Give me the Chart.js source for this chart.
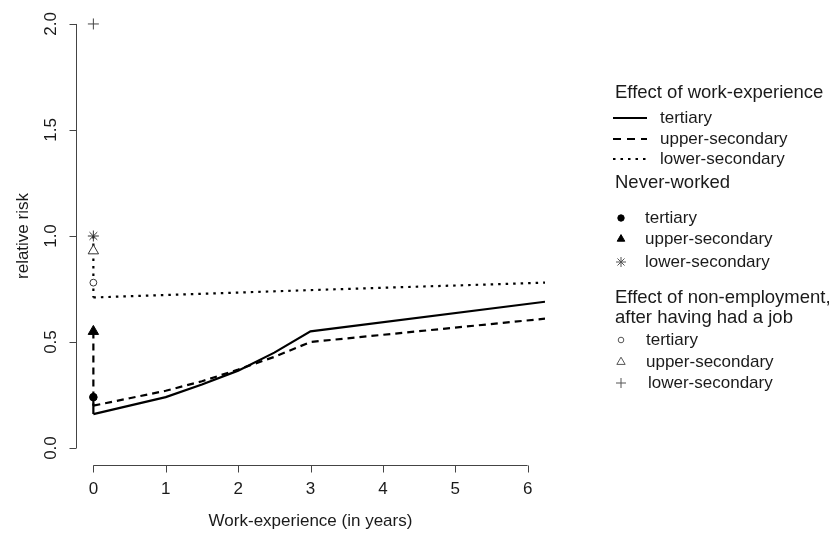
<!DOCTYPE html>
<html>
<head>
<meta charset="utf-8">
<script src="https://cdn.jsdelivr.net/npm/chart.js@4/dist/chart.umd.min.js"></script>
<style>
  html, body { margin: 0; padding: 0; background: #fff; }
  #wrap { width: 832px; height: 533px; }
</style>
</head>
<body>
<div id="wrap"><canvas id="c" width="832" height="533"></canvas></div>
<script>
// Relative risk by years of work experience, per education level
const expYears      = [0, 0.5, 1, 1.5, 2, 2.5, 3, 6.24];
const tertiaryRisk  = [0.16, 0.20, 0.24, 0.30, 0.365, 0.45, 0.55, 0.69];
const upperRisk     = [0.20, 0.235, 0.27, 0.315, 0.37, 0.43, 0.50, 0.61];
const lowerYears    = [0, 3, 6.24];
const lowerRisk     = [0.71, 0.745, 0.78];

// Risk for people who never worked (at zero experience)
const neverWorked   = [0.24, 0.55, 1.00];   // tertiary, upper-secondary, lower-secondary
// Effect of non-employment after having had a job
const nonEmployment = [0.78, 0.93, 2.00];   // tertiary, upper-secondary, lower-secondary

const xTicks = [0, 1, 2, 3, 4, 5, 6];
const yTicks = [0, 0.5, 1.0, 1.5, 2.0];
const yTickLabels = ['0.0', '0.5', '1.0', '1.5', '2.0'];

const FONT = '"Liberation Sans", Arial, sans-serif';
const INK = '#1a1a1a';
const AXIS = '#444';

const DASH = [7, 5];
const DOT = [2.5, 5];

function pts(xs, ys) { return xs.map((x, i) => ({ x, y: ys[i] })); }

const lineBase = { showLine: true, pointRadius: 0, borderColor: '#000', borderWidth: 2.2,
                   fill: false, tension: 0, borderCapStyle: 'butt', order: 2 };

const datasets = [
  Object.assign({}, lineBase, { label: 'tertiary', data: pts(expYears, tertiaryRisk) }),
  Object.assign({}, lineBase, { label: 'upper-secondary', data: pts(expYears, upperRisk), borderDash: DASH }),
  Object.assign({}, lineBase, { label: 'lower-secondary', data: pts(lowerYears, lowerRisk), borderDash: DOT }),
  // connectors from the never-worked level down to each curve's start
  Object.assign({}, lineBase, { data: [{ x: 0, y: neverWorked[0] }, { x: 0, y: tertiaryRisk[0] }] }),
  Object.assign({}, lineBase, { data: [{ x: 0, y: neverWorked[1] }, { x: 0, y: upperRisk[0] }], borderDash: DASH }),
  Object.assign({}, lineBase, { data: [{ x: 0, y: neverWorked[2] }, { x: 0, y: lowerRisk[0] }], borderDash: DOT }),
  // never-worked markers
  { data: [{ x: 0, y: neverWorked[0] }], showLine: false, pointStyle: 'circle', pointRadius: 3.8,
    pointBackgroundColor: '#000', pointBorderColor: '#000', pointBorderWidth: 1, order: 0 },
  { data: [{ x: 0, y: neverWorked[1] }], showLine: false, pointStyle: 'triangle', pointRadius: 6,
    pointBackgroundColor: '#000', pointBorderColor: '#000', pointBorderWidth: 1, order: 0 },
  { data: [{ x: 0, y: neverWorked[2] }], showLine: false, pointStyle: 'star', pointRadius: 5.5,
    pointBackgroundColor: '#333', pointBorderColor: '#333', pointBorderWidth: 1, order: 0 },
  // non-employment markers
  { data: [{ x: 0, y: nonEmployment[0] }], showLine: false, pointStyle: 'circle', pointRadius: 3.4,
    pointBackgroundColor: '#fff', pointBorderColor: '#333', pointBorderWidth: 1, order: 0 },
  { data: [{ x: 0, y: nonEmployment[1] }], showLine: false, pointStyle: 'triangle', pointRadius: 6,
    pointBackgroundColor: '#fff', pointBorderColor: '#333', pointBorderWidth: 1, order: 0 },
  { data: [{ x: 0, y: nonEmployment[2] }], showLine: false, pointStyle: 'cross', pointRadius: 5.5,
    pointBackgroundColor: '#444', pointBorderColor: '#444', pointBorderWidth: 1, order: 0 }
];

// Base-graphics style axes: detached x axis, rotated y labels, ticks only over the tick range
const axesPlugin = {
  id: 'baseAxes',
  afterDraw(chart) {
    const ctx = chart.ctx, xs = chart.scales.x, ys = chart.scales.y, area = chart.chartArea;
    const tick = 7;
    ctx.save();
    ctx.strokeStyle = AXIS;
    ctx.lineWidth = 1;
    ctx.fillStyle = INK;
    ctx.font = '17px ' + FONT;

    // y axis
    const yx = Math.round(area.left) + 0.5;
    const yTop = ys.getPixelForValue(yTicks[yTicks.length - 1]);
    const yBot = ys.getPixelForValue(yTicks[0]);
    ctx.beginPath();
    ctx.moveTo(yx, yTop); ctx.lineTo(yx, yBot);
    yTicks.forEach(v => {
      const p = Math.round(ys.getPixelForValue(v)) + 0.5;
      ctx.moveTo(yx, p); ctx.lineTo(yx - tick, p);
    });
    ctx.stroke();
    yTicks.forEach((v, i) => {
      const p = ys.getPixelForValue(v);
      ctx.save();
      ctx.translate(yx - 25, p);
      ctx.rotate(-Math.PI / 2);
      ctx.textAlign = 'center'; ctx.textBaseline = 'middle';
      ctx.fillText(yTickLabels[i], 0, 0);
      ctx.restore();
    });
    ctx.save();
    ctx.translate(yx - 53, (area.top + area.bottom) / 2);
    ctx.rotate(-Math.PI / 2);
    ctx.textAlign = 'center'; ctx.textBaseline = 'middle';
    ctx.fillText('relative risk', 0, 0);
    ctx.restore();

    // x axis
    const xy = Math.round(area.bottom) + 0.5;
    const xL = xs.getPixelForValue(xTicks[0]);
    const xR = xs.getPixelForValue(xTicks[xTicks.length - 1]);
    ctx.beginPath();
    ctx.moveTo(xL, xy); ctx.lineTo(xR, xy);
    xTicks.forEach(v => {
      const p = Math.round(xs.getPixelForValue(v)) + 0.5;
      ctx.moveTo(p, xy); ctx.lineTo(p, xy + tick);
    });
    ctx.stroke();
    ctx.textAlign = 'center'; ctx.textBaseline = 'middle';
    xTicks.forEach(v => ctx.fillText(String(v), xs.getPixelForValue(v), xy + 24));
    ctx.fillText('Work-experience (in years)', (area.left + area.right) / 2, xy + 56);
    ctx.restore();
  }
};

function drawMarker(ctx, style, x, y, r, fill, stroke) {
  ctx.save();
  ctx.lineWidth = 1;
  ctx.strokeStyle = stroke;
  ctx.fillStyle = fill;
  ctx.beginPath();
  if (style === 'circle') {
    ctx.arc(x, y, r, 0, Math.PI * 2);
    if (fill) ctx.fill();
    ctx.stroke();
  } else if (style === 'triangle') {
    const h = r * 1.5, w = r * Math.sqrt(3);
    ctx.moveTo(x, y - h * 2 / 3);
    ctx.lineTo(x - w / 2, y + h / 3);
    ctx.lineTo(x + w / 2, y + h / 3);
    ctx.closePath();
    if (fill) ctx.fill();
    ctx.stroke();
  } else if (style === 'cross') {
    ctx.moveTo(x - r, y); ctx.lineTo(x + r, y);
    ctx.moveTo(x, y - r); ctx.lineTo(x, y + r);
    ctx.stroke();
  } else if (style === 'star') {
    ctx.moveTo(x - r, y); ctx.lineTo(x + r, y);
    ctx.moveTo(x, y - r); ctx.lineTo(x, y + r);
    const d = r * Math.SQRT1_2;
    ctx.moveTo(x - d, y - d); ctx.lineTo(x + d, y + d);
    ctx.moveTo(x - d, y + d); ctx.lineTo(x + d, y - d);
    ctx.stroke();
  }
  ctx.restore();
}

// Grouped legend on the right
const legendPlugin = {
  id: 'groupedLegend',
  afterDraw(chart) {
    const ctx = chart.ctx;
    ctx.save();
    ctx.fillStyle = INK;
    ctx.textBaseline = 'middle';
    ctx.textAlign = 'left';
    const hx = 615;
    const head = '18.5px ' + FONT, item = '17px ' + FONT;

    ctx.font = head; ctx.fillText('Effect of work-experience', hx, 93);
    const lineItems = [['tertiary', [], 118], ['upper-secondary', [8, 6], 139], ['lower-secondary', [2.5, 5], 159]];
    lineItems.forEach(([t, dash, y]) => {
      ctx.save();
      ctx.strokeStyle = '#000'; ctx.lineWidth = 2.2; ctx.setLineDash(dash); ctx.lineCap = 'butt';
      ctx.beginPath(); ctx.moveTo(613, y); ctx.lineTo(647, y); ctx.stroke();
      ctx.restore();
      ctx.font = item; ctx.fillText(t, 660, y);
    });

    ctx.font = head; ctx.fillText('Never-worked', hx, 183);
    const nw = [['tertiary', 'circle', 218, 3.2, '#000', '#000'],
                ['upper-secondary', 'triangle', 239, 4.4, '#000', '#000'],
                ['lower-secondary', 'star', 262, 5, null, '#555']];
    nw.forEach(([t, s, y, r, f, st]) => {
      drawMarker(ctx, s, 621, y, r, f, st);
      ctx.font = item; ctx.fillText(t, 645, y);
    });

    ctx.font = head;
    ctx.fillText('Effect of non-employment,', hx, 298);
    ctx.fillText('after having had a job', hx, 318);
    const ne = [['tertiary', 'circle', 340, 2.8, null, '#555'],
                ['upper-secondary', 'triangle', 362, 4.8, null, '#555'],
                ['lower-secondary', 'cross', 383, 5, null, '#555']];
    ne.forEach(([t, s, y, r, f, st]) => {
      drawMarker(ctx, s, 621, y, r, f, st);
      ctx.font = item; ctx.fillText(t, s === 'cross' ? 648 : 646, y);
    });
    ctx.restore();
  }
};

new Chart(document.getElementById('c'), {
  type: 'scatter',
  data: { datasets },
  options: {
    responsive: false,
    animation: false,
    devicePixelRatio: 1,
    layout: { padding: { left: 76, right: 287, top: 6, bottom: 68 } },
    plugins: { legend: { display: false }, tooltip: { enabled: false } },
    scales: {
      x: { type: 'linear', min: -0.24, max: 6.24, display: false },
      y: { type: 'linear', min: -0.08, max: 2.08, display: false }
    }
  },
  plugins: [axesPlugin, legendPlugin]
});
</script>
</body>
</html>
